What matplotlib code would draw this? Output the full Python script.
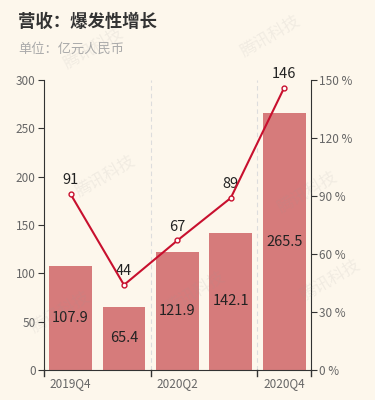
import numpy as np
import matplotlib.pyplot as plt
from matplotlib.ticker import FuncFormatter

plt.rcParams['font.family'] = ['Noto Sans CJK SC', 'DejaVu Sans']

# 数据
quarters = ['2019Q4', '2020Q1', '2020Q2', '2020Q3', '2020Q4']
revenue = [107.9, 65.4, 121.9, 142.1, 265.5]
growth = [91, 44, 67, 89, 146]
tick_labels = ['2019Q4', '', '2020Q2', '', '2020Q4']

bg = '#fdf7ec'
bar_color = '#d67b7b'
line_color = '#c8102e'
axis_color = '#333333'
text_gray = '#666666'

fig = plt.figure(figsize=(3.75, 4.0), dpi=100, facecolor=bg)
ax = fig.add_axes([0.117, 0.075, 0.712, 0.725])
ax.set_facecolor(bg)

x = np.arange(len(quarters))
ax.bar(x, revenue, width=0.8, color=bar_color, zorder=2)
for xi, v in zip(x, revenue):
    ax.text(xi, v / 2, f'{v}', ha='center', va='center', fontsize=10.5,
            color='#222222', zorder=5)

ax.set_xlim(-0.5, len(quarters) - 0.5)
ax.set_ylim(0, 300)
ax.set_yticks(np.arange(0, 301, 50))
ax.set_xticks(x)
ax.set_xticklabels(tick_labels)
ax.tick_params(axis='x', length=0, pad=5, labelsize=8.5, labelcolor=text_gray)
ax.tick_params(axis='y', length=4, color=axis_color, labelsize=8.5,
               labelcolor=text_gray, pad=2)
# 分隔刻度与虚线
for b in [-0.5, 1.5, 3.5, 4.5]:
    ax.plot([b, b], [0, -6], color=axis_color, lw=1, clip_on=False)
for b in [1.5, 3.5]:
    ax.axvline(b, color='#dddddd', lw=0.8, ls=(0, (4, 3)), zorder=1)

ax.spines['top'].set_visible(False)
ax.spines['right'].set_visible(False)
ax.spines['left'].set_color(axis_color)
ax.spines['bottom'].set_color(axis_color)

ax2 = ax.twinx()
ax2.set_ylim(0, 150)
ax2.set_yticks(np.arange(0, 151, 30))
ax2.yaxis.set_major_formatter(FuncFormatter(lambda v, p: f'{int(v)} %'))
ax2.tick_params(axis='y', length=4, color=axis_color, labelsize=8.5,
                labelcolor=text_gray, pad=2)
for side in ['top', 'left', 'bottom']:
    ax2.spines[side].set_visible(False)
ax2.spines['right'].set_color(axis_color)
ax2.plot(x, growth, color=line_color, lw=1.5, marker='o', ms=3.5,
         mfc='white', mec=line_color, mew=1, zorder=4)
for xi, g in zip(x, growth):
    ax2.annotate(f'{g}', (xi, g), xytext=(0, 5), textcoords='offset points',
                 ha='center', va='bottom', fontsize=10.5, color='#222222')

# 水印
for wx, wy in [(0.25, 0.88), (0.72, 0.91), (0.28, 0.56), (0.82, 0.52),
               (0.16, 0.22), (0.52, 0.27), (0.88, 0.30)]:
    fig.text(wx, wy, '腾讯科技', rotation=30, fontsize=12, color='#999999',
             alpha=0.12, ha='center', va='center')

fig.text(0.048, 0.945, '营收：爆发性增长', fontsize=12.5, fontweight='bold',
         color='#333333', va='center')
fig.text(0.048, 0.878, '单位：亿元人民币', fontsize=9.5, color='#aaaaaa',
         va='center')

fig.savefig('out.png', dpi=100, facecolor=bg)
